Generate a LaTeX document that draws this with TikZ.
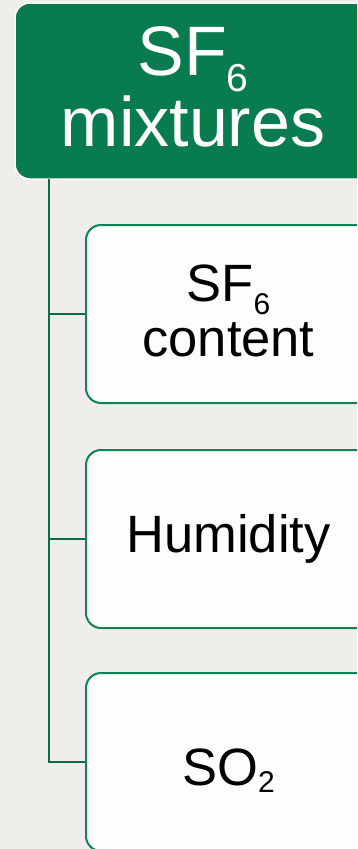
\documentclass[tikz,border=0pt]{standalone}
\usepackage{fontspec}
\setmainfont{Liberation Sans}
\definecolor{pagebg}{HTML}{EFEEEB}
\definecolor{headgreen}{HTML}{087B4F}
\definecolor{boxline}{HTML}{0E8356}
\definecolor{spinegreen}{HTML}{0A6B44}
\definecolor{boxfill}{HTML}{FDFDFB}
% lowered subscript: #1 = drop, #2 = size, #3 = text
\newcommand{\lowsub}[3]{\raisebox{-#1pt}{\fontsize{#2}{#2}\selectfont #3}}
\tikzset{
  headbox/.style={draw=white, line width=1.5pt, fill=headgreen, rounded corners=15pt,
    minimum width=357pt, minimum height=176pt, inner sep=0pt},
  itembox/.style={draw=boxline, line width=2pt, fill=boxfill, rounded corners=15pt,
    minimum width=285pt, minimum height=178pt, inner sep=0pt},
  headtext/.style={text=white, align=center, inner sep=0pt,
    font=\fontsize{70}{71}\selectfont},
  itemtext/.style={text=black, align=center, inner sep=0pt,
    font=\fontsize{52.5}{55}\selectfont},
  spine/.style={draw=spinegreen, line width=2.5pt}
}
\begin{document}
\begin{tikzpicture}[x=1pt,y=-1pt]
  \fill[pagebg] (0,0) rectangle (357,849);
  \useasboundingbox (0,0) rectangle (357,849);
  \clip (0,0) rectangle (357,849);

  % header and the three item boxes
  \node[headbox] (root) at (193.5,91) {};
  \node[itembox] (c1) at (228.5,314) {};
  \node[itembox] (c2) at (228.5,539) {};
  \node[itembox] (c3) at (228.5,762) {};

  % texts
  \node[headtext] (roottext) at (193,86.8) {SF\lowsub{16}{39}{6}\\mixtures};
  \node[itemtext] (c1text) at (228.5,311) {SF\lowsub{13}{30}{6}\\content};
  \node[itemtext, anchor=base] (c2text) at (228.5,552) {Humidity};
  \node[itemtext, anchor=base] (c3text) at (228.5,785) {SO\lowsub{7}{30}{2}};

  % tree connectors
  \coordinate (spinetop) at (49,179);
  \draw[spine] (spinetop) |- (c3.west);
  \draw[spine] (spinetop |- c1.west) -- (c1.west);
  \draw[spine] (spinetop |- c2.west) -- (c2.west);
\end{tikzpicture}
\end{document}
